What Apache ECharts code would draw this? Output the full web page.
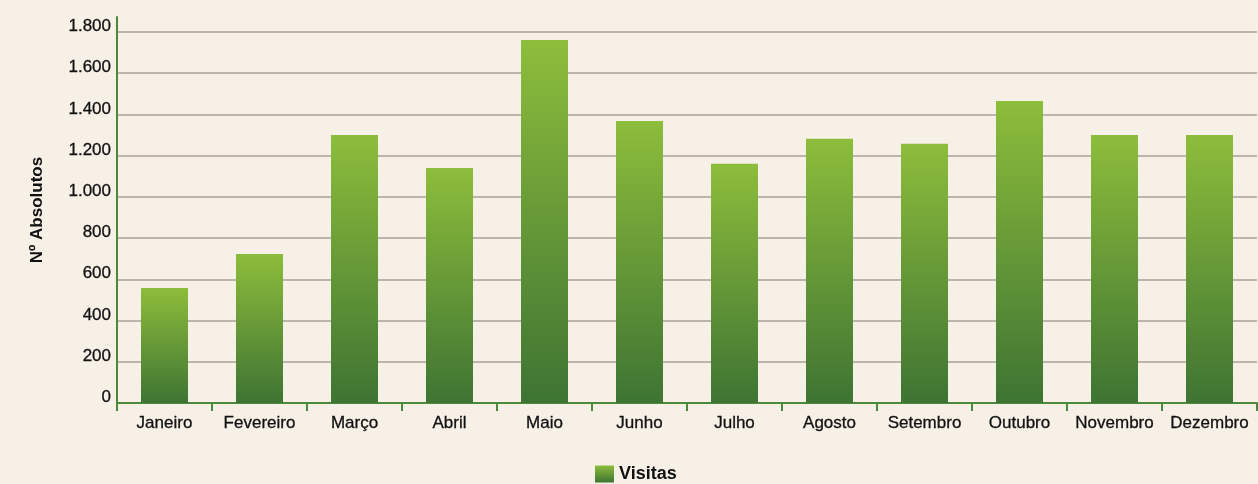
<!DOCTYPE html>
<html>
<head>
<meta charset="utf-8">
<script src="https://cdn.jsdelivr.net/npm/echarts@6/dist/echarts.min.js"></script>
<style>
  html, body { margin: 0; padding: 0; background: #f7f0e7; }
  #chart { width: 1258px; height: 484px; }
</style>
</head>
<body>
<div id="chart"></div>
<script>
// Monthly visits (absolute numbers)
const months = ['Janeiro', 'Fevereiro', 'Março', 'Abril', 'Maio', 'Junho',
                'Julho', 'Agosto', 'Setembro', 'Outubro', 'Novembro', 'Dezembro'];
const visitas = [558, 723, 1300, 1140, 1760, 1368, 1160, 1281, 1257, 1465, 1300, 1300];
const seriesName = 'Visitas';
const yAxisTitle = 'Nº Absolutos';

const green = '#4a8a3a';
const ink = '#111';
const fmt = v => String(v).replace(/\B(?=(\d{3})+(?!\d))/g, '.');

const chart = echarts.init(document.getElementById('chart'));
chart.setOption({
  backgroundColor: '#f7f0e7',
  textStyle: { fontFamily: 'Liberation Sans, Arial, sans-serif' },
  grid: { left: 117, right: 1, top: 17, bottom: 81, containLabel: false },
  legend: {
    data: [seriesName],
    left: 595, top: 465, padding: 0,
    icon: 'rect', itemWidth: 19, itemHeight: 17, itemGap: 6,
    textStyle: { fontSize: 18, fontWeight: 'bold', color: ink, padding: [8, 0, 0, 0] }
  },
  xAxis: {
    type: 'category',
    data: months,
    boundaryGap: true,
    axisLine: { lineStyle: { color: green, width: 2 } },
    axisTick: { show: true, length: 8, lineStyle: { color: green, width: 2 } },
    axisLabel: {
      color: ink, fontSize: 17, margin: 12, interval: 0,
      textBorderColor: ink, textBorderWidth: 0.3
    }
  },
  yAxis: {
    type: 'value',
    min: 0,
    max: 1872,
    interval: 200,
    name: yAxisTitle,
    nameLocation: 'middle',
    nameGap: 71,
    nameTextStyle: { fontSize: 17, fontWeight: 'bold', color: ink },
    axisLine: { show: true, lineStyle: { color: green, width: 2 } },
    axisTick: { show: false },
    axisLabel: {
      color: ink, fontSize: 17, margin: 6,
      textBorderColor: ink, textBorderWidth: 0.3,
      verticalAlign: 'bottom',
      lineHeight: 11,
      showMaxLabel: false,
      formatter: v => (v % 200 === 0 ? fmt(v) : '')
    },
    splitLine: {
      show: true,
      showMinLine: false,
      showMaxLine: false,
      lineStyle: { color: '#a8a29a', width: 1.5 }
    }
  },
  series: [{
    name: seriesName,
    type: 'bar',
    data: visitas,
    barWidth: 47,
    itemStyle: {
      color: new echarts.graphic.LinearGradient(0, 0, 0, 1, [
        { offset: 0, color: '#8dbd3b' },
        { offset: 1, color: '#3e7433' }
      ])
    },
    z: 3
  }]
});
</script>
</body>
</html>
